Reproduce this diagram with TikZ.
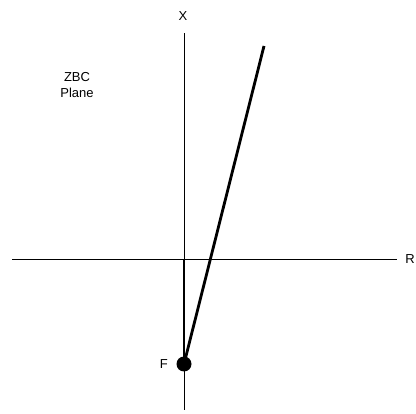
\documentclass[tikz,border=0pt]{standalone}
\usepackage{fontspec}
\setmainfont{Liberation Sans}
\usetikzlibrary{positioning,calc}

\begin{document}
\begin{tikzpicture}[
  x=1pt, y=-1pt,
  axis/.style={draw=black, line width=1pt},
  ray/.style={draw=black, line width=2.8pt},
  lbl/.style={font=\fontsize{13}{15.5}\selectfont, inner sep=0pt, align=center}
]
  \useasboundingbox (0,0) rectangle (416,414);
  % axes
  \coordinate (o) at (184,260);
  \coordinate (rend) at (397,260);
  \coordinate (lend) at (12,260);
  \coordinate (xtop) at (184,33);
  \coordinate (xbot) at (184,410);
  \coordinate (tip) at (264,46);
  \draw[axis] (lend) -- (rend);
  \draw[axis] (xbot) -- (xtop);
  \node[lbl] (rlab) at (410,259) {R};
  \node[lbl] (xlab) at (183,16) {X};
  \node[lbl] (plane) at (77,85) {ZBC\\Plane};
  % focal point and ray
  \node[circle, fill=black, inner sep=0pt, minimum size=15pt] (f) at (184,364) {};
  \node[lbl, left=16pt of f.center] (flab) {F};
  \draw[ray] (o) -- (f.center);
  \draw[ray] (f.center) -- (tip);
\end{tikzpicture}
\end{document}
